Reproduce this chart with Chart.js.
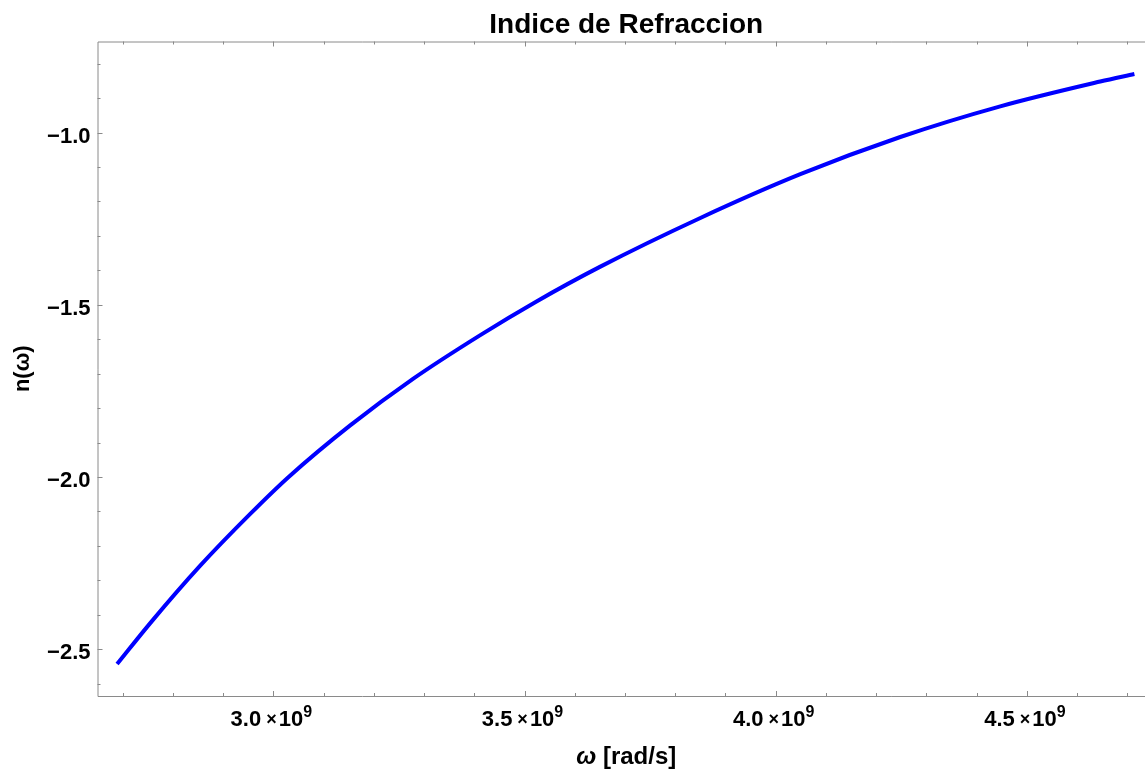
<!DOCTYPE html>
<html>
<head>
<meta charset="utf-8">
<title>Indice de Refraccion</title>
<script src="https://cdn.jsdelivr.net/npm/chart.js@4/dist/chart.umd.min.js"></script>
<style>
  html, body { margin: 0; padding: 0; background: #fff; overflow: hidden; }
  #wrap { width: 1145px; height: 772px; overflow: hidden; }
  canvas { display: block; }
</style>
</head>
<body>
<div id="wrap">
  <canvas id="refChart" width="1160" height="772"></canvas>
</div>
<script>
// frequency samples (rad/s) and refractive index
const omega = [
  2.689e9, 2.755e9, 2.854e9, 2.954e9, 3.031e9, 3.153e9, 3.278e9, 3.412e9,
  3.523e9, 3.650e9, 3.850e9, 4.049e9, 4.248e9, 4.447e9, 4.646e9, 4.714e9
];
const nValues = [
  -2.543, -2.424, -2.258, -2.107, -1.999, -1.850, -1.715, -1.588,
  -1.491, -1.390, -1.248, -1.121, -1.013, -0.924, -0.852, -0.830
];

// axis ticks
const xMajor = [3.0e9, 3.5e9, 4.0e9, 4.5e9];
const xMajorLabels = ["3.0", "3.5", "4.0", "4.5"];
const xMinor = [2.7e9, 2.8e9, 2.9e9, 3.1e9, 3.2e9, 3.3e9, 3.4e9, 3.6e9, 3.7e9,
                3.8e9, 3.9e9, 4.1e9, 4.2e9, 4.3e9, 4.4e9, 4.6e9, 4.7e9];
const yMajor = [-2.5, -2.0, -1.5, -1.0];
const yMajorLabels = ["\u22122.5", "\u22122.0", "\u22121.5", "\u22121.0"];
const yMinor = [-2.6, -2.4, -2.3, -2.2, -2.1, -1.9, -1.8, -1.7, -1.6,
                -1.4, -1.3, -1.2, -1.1, -0.9, -0.8];

const FONT = '"Liberation Sans", Arial, sans-serif';
const FRAME = "#8a8a8a";

// frame, inward ticks and all text drawn over the plot
const framePlugin = {
  id: "framePlugin",
  afterDraw(chart) {
    const ctx = chart.ctx;
    const area = chart.chartArea;
    const xs = chart.scales.x;
    const ys = chart.scales.y;

    ctx.save();
    ctx.strokeStyle = FRAME;
    ctx.lineWidth = 1;
    ctx.beginPath();
    ctx.rect(area.left + 0.5, area.top + 0.5, area.right - area.left, area.bottom - area.top);
    ctx.stroke();

    // tick marks on all four sides
    const tickX = (v, len) => {
      const px = Math.round(xs.getPixelForValue(v)) + 0.5;
      ctx.moveTo(px, area.bottom); ctx.lineTo(px, area.bottom - len);
      ctx.moveTo(px, area.top); ctx.lineTo(px, area.top + len);
    };
    const tickY = (v, len) => {
      const py = Math.round(ys.getPixelForValue(v)) + 0.5;
      ctx.moveTo(area.left, py); ctx.lineTo(area.left + len, py);
      ctx.moveTo(area.right, py); ctx.lineTo(area.right - len, py);
    };
    ctx.beginPath();
    xMajor.forEach(v => tickX(v, 5));
    xMinor.forEach(v => tickX(v, 3));
    yMajor.forEach(v => tickY(v, 5));
    yMinor.forEach(v => tickY(v, 3));
    ctx.stroke();

    ctx.fillStyle = "#000";

    // y tick labels
    ctx.font = "bold 22px " + FONT;
    ctx.textAlign = "right";
    ctx.textBaseline = "alphabetic";
    yMajor.forEach((v, i) => {
      ctx.fillText(yMajorLabels[i], area.left - 7, ys.getPixelForValue(v) + 10);
    });

    // x tick labels as  m × 10^9
    ctx.textAlign = "left";
    xMajor.forEach((v, i) => {
      const big = "bold 22px " + FONT;
      const mid = "bold 18px " + FONT;
      const sup = "bold 16px " + FONT;
      ctx.font = big; const w1 = ctx.measureText(xMajorLabels[i]).width;
      ctx.font = mid; const w2 = ctx.measureText("\u00d7").width;
      ctx.font = big; const w3 = ctx.measureText("10").width;
      ctx.font = sup; const w4 = ctx.measureText("9").width;
      const total = w1 + 5 + w2 + 2 + w3 + w4;
      let x = xs.getPixelForValue(v) - 2 - total / 2;
      const base = area.bottom + 30;
      ctx.font = big; ctx.fillText(xMajorLabels[i], x, base); x += w1 + 5;
      ctx.font = mid; ctx.fillText("\u00d7", x, base - 1); x += w2 + 2;
      ctx.font = big; ctx.fillText("10", x, base); x += w3;
      ctx.font = sup; ctx.fillText("9", x, base - 9);
    });

    // title
    const cx = (area.left + area.right) / 2;
    ctx.font = "bold 28px " + FONT;
    ctx.textAlign = "center";
    ctx.fillText("Indice de Refraccion", cx, 33);

    // x axis title: italic omega followed by units
    const omFont = "italic bold 24px " + FONT;
    const unFont = "bold 24px " + FONT;
    ctx.font = omFont; const wo = ctx.measureText("\u03c9").width;
    ctx.font = unFont; const wu = ctx.measureText(" [rad/s]").width;
    const tx = cx - (wo + wu) / 2;
    ctx.textAlign = "left";
    ctx.font = omFont; ctx.fillText("\u03c9", tx, 764);
    ctx.font = unFont; ctx.fillText(" [rad/s]", tx + wo, 764);

    // y axis title
    ctx.translate(29, (area.top + area.bottom) / 2);
    ctx.rotate(-Math.PI / 2);
    ctx.font = "bold 22px " + FONT;
    ctx.textAlign = "center";
    ctx.fillText("n(\u03c9)", 0, 0);
    ctx.restore();
  }
};

new Chart(document.getElementById("refChart"), {
  type: "line",
  data: {
    datasets: [{
      data: omega.map((w, i) => ({ x: w, y: nValues[i] })),
      borderColor: "#0000ff",
      borderWidth: 4,
      pointRadius: 0,
      fill: false,
      cubicInterpolationMode: "monotone"
    }]
  },
  options: {
    responsive: false,
    animation: false,
    layout: { padding: { left: 97.5, top: 41.5, right: 5, bottom: 76 } },
    scales: {
      x: { type: "linear", display: false, min: 2.65e9, max: 4.755e9 },
      y: { type: "linear", display: false, min: -2.6356, max: -0.7358 }
    },
    plugins: {
      legend: { display: false },
      tooltip: { enabled: false }
    }
  },
  plugins: [framePlugin]
});
</script>
</body>
</html>
